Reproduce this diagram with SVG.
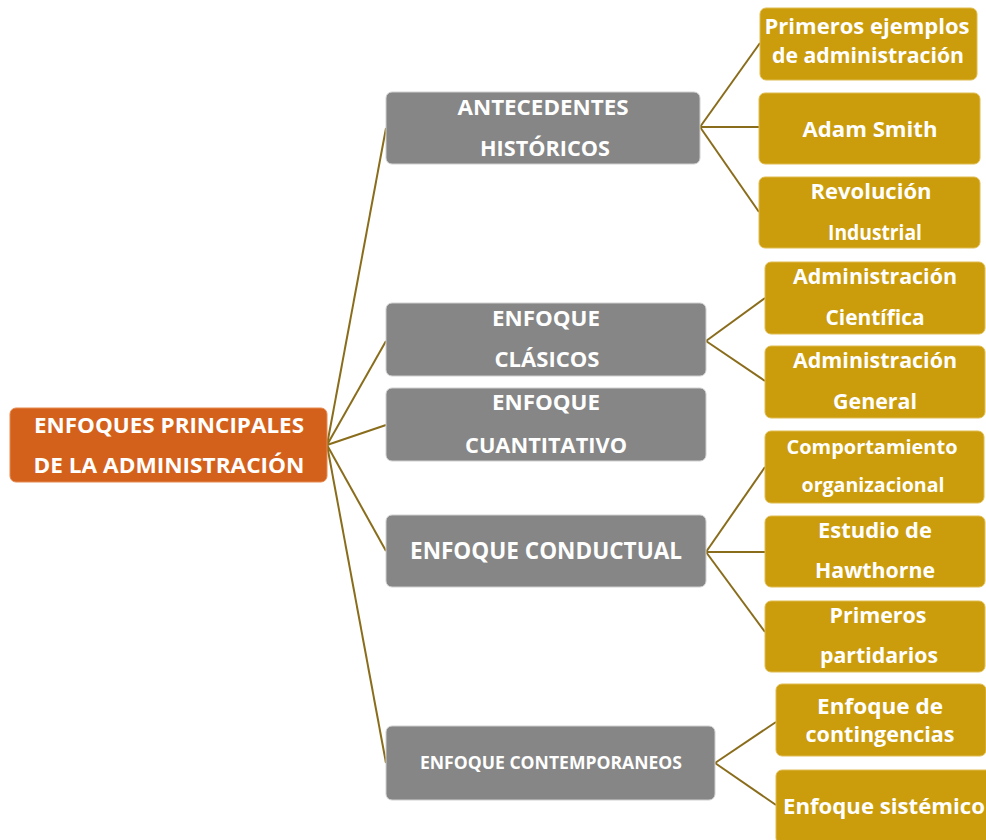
<svg xmlns="http://www.w3.org/2000/svg" width="986" height="840" viewBox="0 0 986 840">
  <style>
    .root { fill: #D4611B; stroke: #E58A50; stroke-width: 1; }
    .mid { fill: #868686; stroke: #D0D0D0; stroke-width: 1; }
    .leaf { fill: #CB9C0C; stroke: #E0BC50; stroke-width: 1; }
    .t { font-family: "Open Sans", "Liberation Sans", sans-serif; font-weight: bold; fill: #FFFFFF; }
    .edge { stroke: #8A6D1C; stroke-width: 2; fill: none; }
  </style>

  <g id="connectors">
    <!-- root to first-level topics -->
    <line class="edge" x1="327" y1="445" x2="386" y2="128"/>
    <line class="edge" x1="327" y1="445" x2="386" y2="341"/>
    <line class="edge" x1="327" y1="445" x2="386" y2="425"/>
    <line class="edge" x1="327" y1="445" x2="386" y2="551"/>
    <line class="edge" x1="327" y1="445" x2="386" y2="763"/>
    <!-- antecedentes -->
    <line class="edge" x1="700" y1="127" x2="760" y2="43"/>
    <line class="edge" x1="700" y1="127" x2="759" y2="127"/>
    <line class="edge" x1="700" y1="127" x2="759" y2="212"/>
    <!-- clásicos -->
    <line class="edge" x1="706" y1="341" x2="765" y2="298"/>
    <line class="edge" x1="706" y1="341" x2="765" y2="381"/>
    <!-- conductual -->
    <line class="edge" x1="706" y1="552" x2="765" y2="467"/>
    <line class="edge" x1="706" y1="552" x2="765" y2="552"/>
    <line class="edge" x1="706" y1="552" x2="765" y2="632"/>
    <!-- contemporáneos -->
    <line class="edge" x1="715" y1="763" x2="776" y2="722"/>
    <line class="edge" x1="715" y1="763" x2="776" y2="805"/>
  </g>

  <g id="root">
    <rect class="root" x="10" y="408" width="317" height="74" rx="6"/>
    <text class="t" x="169" y="433" font-size="21" text-anchor="middle" textLength="270" lengthAdjust="spacingAndGlyphs">ENFOQUES PRINCIPALES</text>
    <text class="t" x="169" y="473" font-size="21" text-anchor="middle" textLength="271" lengthAdjust="spacingAndGlyphs">DE LA ADMINISTRACIÓN</text>
  </g>

  <g id="antecedentes">
    <rect class="mid" x="386" y="92" width="314" height="72" rx="6"/>
    <text class="t" x="543" y="115" font-size="21" text-anchor="middle" textLength="171" lengthAdjust="spacingAndGlyphs">ANTECEDENTES</text>
    <text class="t" x="545" y="156" font-size="21" text-anchor="middle" textLength="130" lengthAdjust="spacingAndGlyphs">HISTÓRICOS</text>
  </g>

  <g id="clasicos">
    <rect class="mid" x="386" y="303" width="320" height="73" rx="6"/>
    <text class="t" x="546" y="326" font-size="21" text-anchor="middle" textLength="108" lengthAdjust="spacingAndGlyphs">ENFOQUE</text>
    <text class="t" x="547" y="367" font-size="21" text-anchor="middle" textLength="105" lengthAdjust="spacingAndGlyphs">CLÁSICOS</text>
  </g>

  <g id="cuantitativo">
    <rect class="mid" x="386" y="388" width="320" height="73" rx="6"/>
    <text class="t" x="546" y="410" font-size="21" text-anchor="middle" textLength="108" lengthAdjust="spacingAndGlyphs">ENFOQUE</text>
    <text class="t" x="546" y="453" font-size="21" text-anchor="middle" textLength="162" lengthAdjust="spacingAndGlyphs">CUANTITATIVO</text>
  </g>

  <g id="conductual">
    <rect class="mid" x="386" y="515" width="320" height="72" rx="6"/>
    <text class="t" x="546" y="559" font-size="24" text-anchor="middle" textLength="272" lengthAdjust="spacingAndGlyphs">ENFOQUE CONDUCTUAL</text>
  </g>

  <g id="contemporaneos">
    <rect class="mid" x="386" y="726" width="329" height="74" rx="6"/>
    <text class="t" x="551" y="769" font-size="17" text-anchor="middle" textLength="262" lengthAdjust="spacingAndGlyphs">ENFOQUE CONTEMPORANEOS</text>
  </g>

  <g id="primeros-ejemplos">
    <rect class="leaf" x="760" y="8" width="217" height="72" rx="6"/>
    <text class="t" x="867" y="34" font-size="22" text-anchor="middle" textLength="205" lengthAdjust="spacingAndGlyphs">Primeros ejemplos</text>
    <text class="t" x="868" y="63" font-size="22" text-anchor="middle" textLength="192" lengthAdjust="spacingAndGlyphs">de administración</text>
  </g>

  <g id="adam-smith">
    <rect class="leaf" x="759" y="93" width="221" height="71" rx="6"/>
    <text class="t" x="870" y="137" font-size="22" text-anchor="middle" textLength="135" lengthAdjust="spacingAndGlyphs">Adam Smith</text>
  </g>

  <g id="revolucion-industrial">
    <rect class="leaf" x="759" y="177" width="221" height="71" rx="6"/>
    <text class="t" x="871" y="199" font-size="22" text-anchor="middle" textLength="121" lengthAdjust="spacingAndGlyphs">Revolución</text>
    <text class="t" x="875" y="240" font-size="22" text-anchor="middle" textLength="94" lengthAdjust="spacingAndGlyphs">Industrial</text>
  </g>

  <g id="administracion-cientifica">
    <rect class="leaf" x="765" y="262" width="220" height="72" rx="6"/>
    <text class="t" x="875" y="284" font-size="22" text-anchor="middle" textLength="164" lengthAdjust="spacingAndGlyphs">Administración</text>
    <text class="t" x="875" y="325" font-size="22" text-anchor="middle" textLength="99" lengthAdjust="spacingAndGlyphs">Científica</text>
  </g>

  <g id="administracion-general">
    <rect class="leaf" x="765" y="346" width="220" height="72" rx="6"/>
    <text class="t" x="875" y="368" font-size="22" text-anchor="middle" textLength="164" lengthAdjust="spacingAndGlyphs">Administración</text>
    <text class="t" x="875" y="409" font-size="22" text-anchor="middle" textLength="84" lengthAdjust="spacingAndGlyphs">General</text>
  </g>

  <g id="comportamiento-organizacional">
    <rect class="leaf" x="765" y="431" width="219" height="72" rx="6"/>
    <text class="t" x="872" y="454" font-size="19" text-anchor="middle" textLength="171" lengthAdjust="spacingAndGlyphs">Comportamiento</text>
    <text class="t" x="873" y="492" font-size="19" text-anchor="middle" textLength="143" lengthAdjust="spacingAndGlyphs">organizacional</text>
  </g>

  <g id="estudio-hawthorne">
    <rect class="leaf" x="765" y="516" width="220" height="71" rx="6"/>
    <text class="t" x="875" y="538" font-size="22" text-anchor="middle" textLength="114" lengthAdjust="spacingAndGlyphs">Estudio de</text>
    <text class="t" x="875" y="578" font-size="22" text-anchor="middle" textLength="120" lengthAdjust="spacingAndGlyphs">Hawthorne</text>
  </g>

  <g id="primeros-partidarios">
    <rect class="leaf" x="765" y="601" width="220" height="71" rx="6"/>
    <text class="t" x="878" y="623" font-size="22" text-anchor="middle" textLength="97" lengthAdjust="spacingAndGlyphs">Primeros</text>
    <text class="t" x="879" y="663" font-size="22" text-anchor="middle" textLength="118" lengthAdjust="spacingAndGlyphs">partidarios</text>
  </g>

  <g id="enfoque-contingencias">
    <rect class="leaf" x="776" y="684" width="210" height="72" rx="6"/>
    <text class="t" x="880" y="714" font-size="22" text-anchor="middle" textLength="126" lengthAdjust="spacingAndGlyphs">Enfoque de</text>
    <text class="t" x="880" y="742" font-size="22" text-anchor="middle" textLength="149" lengthAdjust="spacingAndGlyphs">contingencias</text>
  </g>

  <g id="enfoque-sistemico">
    <rect class="leaf" x="776" y="770" width="216" height="74" rx="6"/>
    <text class="t" x="884" y="814" font-size="22" text-anchor="middle" textLength="202" lengthAdjust="spacingAndGlyphs">Enfoque sistémico</text>
  </g>
</svg>
